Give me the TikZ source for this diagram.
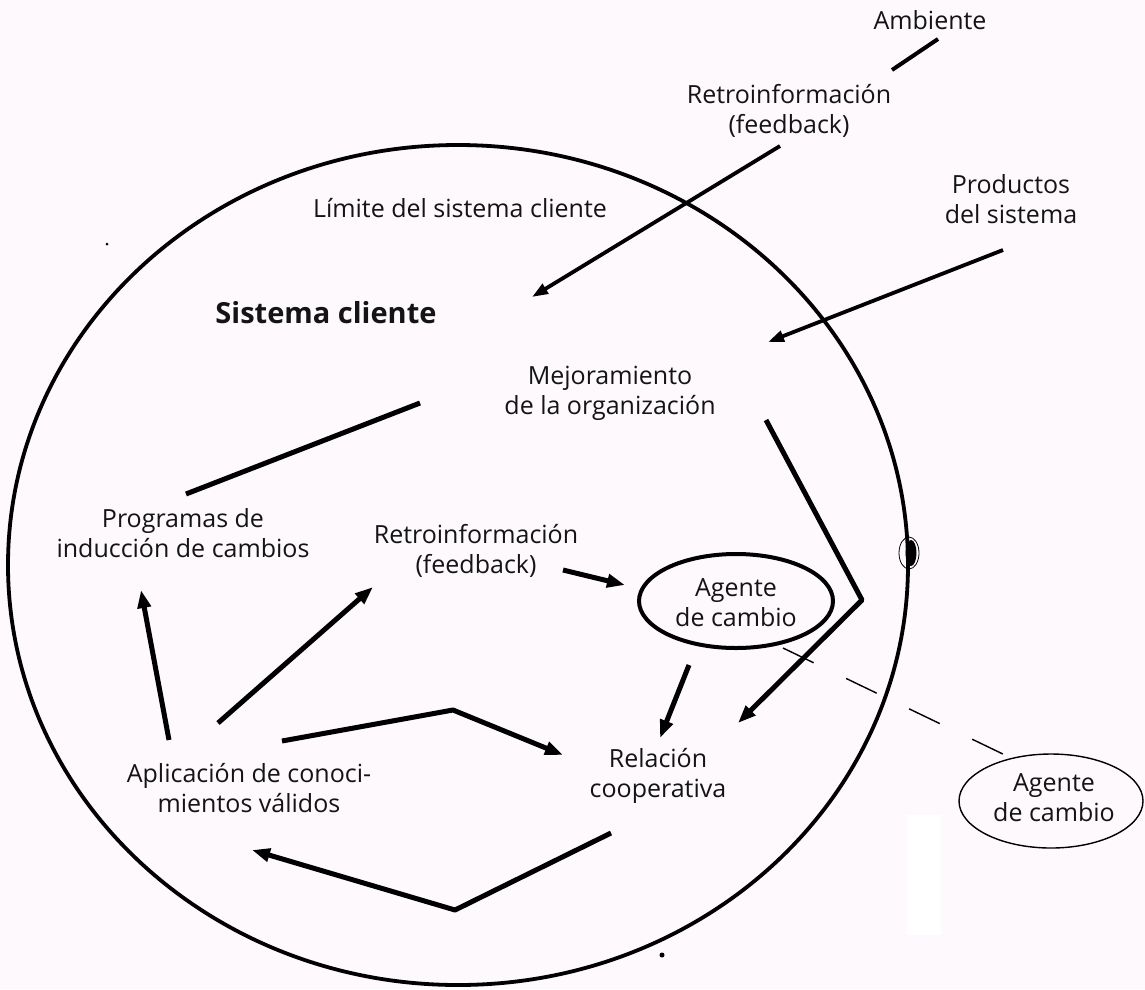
\documentclass[tikz,border=0pt]{standalone}
\usepackage{fontspec}
\setmainfont{Open Sans}
\usetikzlibrary{arrows.meta}
\definecolor{paper}{RGB}{253,249,253}
\definecolor{ink}{RGB}{20,20,20}
\begin{document}
\begin{tikzpicture}[x=1pt,y=-1pt,
  lbl/.style={font=\fontsize{25}{30}\selectfont, align=center, inner sep=0pt, text=ink},
  boldlbl/.style={font=\fontsize{29}{34}\selectfont\bfseries, inner sep=0pt, text=ink},
  conn/.style={line width=5pt, line join=round},
  arr/.style={conn, -{Triangle[length=18pt,width=13pt]}},
  thinarr/.style={line width=3.8pt, -{Triangle[length=16pt,width=11pt]}},
  boundary/.style={line width=3.8pt},
  dashlink/.style={line width=1.4pt, dash pattern=on 34pt off 36pt}
]
\fill[paper] (0,0) rectangle (1145,989);
\useasboundingbox (0,0) rectangle (1145,989);
\fill[white] (907,815) rectangle (941,935);

% client system boundary
\draw[boundary] (458,565) ellipse [x radius=450, y radius=420];
\draw[line width=0.8pt] (909,553) ellipse [x radius=10, y radius=16];
\fill (911,553) ellipse [x radius=5.5, y radius=13];
\fill (107,244) circle (1.5);
\fill (662,955) circle (2.5);

% labels
\node[lbl, anchor=base] (amb) at (930,29) {Ambiente};
\node[lbl] (fbout) at (789,111) {Retroinformación\\(feedback)};
\node[lbl] (prod) at (1011,199) {Productos\\del sistema};
\node[lbl, anchor=base] (lim) at (460,217) {Límite del sistema cliente};
\node[boldlbl, anchor=base] (sis) at (326,323) {Sistema cliente};
\node[lbl] (mej) at (610,393) {Mejoramiento\\de la organización};
\node[lbl] (prog) at (183,533) {Programas de\\inducción de cambios};
\node[lbl] (fbin) at (476,551) {Retroinformación\\(feedback)};
\node[lbl] (agtxt) at (736,603) {Agente\\de cambio};
\draw[line width=4pt] (736,601) ellipse [x radius=97, y radius=47];
\node[lbl] (rel) at (658,776) {Relación\\cooperativa};
\node[lbl] (apl) at (249,788) {Aplicación de conoci-\\mientos válidos};
\node[lbl] (agout) at (1054,798) {Agente\\de cambio};
\draw[line width=1.4pt] (1051,801) ellipse [x radius=92, y radius=47];

% connector end points
\coordinate (ambA) at (938,39);   \coordinate (ambB) at (892,70);
\coordinate (fbA) at (780,146);   \coordinate (fbB) at (532,297);
\coordinate (prA) at (1003,250);  \coordinate (prB) at (768,342);
\coordinate (mpA) at (420,403);   \coordinate (mpB) at (186,494);
\coordinate (mrA) at (766,420);   \coordinate (mrK) at (862,600);  \coordinate (mrB) at (738,723);
\coordinate (faA) at (563,570);   \coordinate (faB) at (625,585);
\coordinate (arA) at (689,665);   \coordinate (arB) at (660,738);
\coordinate (apA) at (169,740);   \coordinate (apB) at (141,590);
\coordinate (afA) at (218,723);   \coordinate (afB) at (373,587);
\coordinate (alA) at (282,741);   \coordinate (alK) at (453,710);  \coordinate (alB) at (563,755);
\coordinate (raA) at (611,833);   \coordinate (raK) at (455,910);  \coordinate (raB) at (252,850);
\coordinate (dA) at (783,648);    \coordinate (dB) at (1007,756);

% connectors
\draw[line width=4pt] (ambA) -- (ambB);
\draw[thinarr] (fbA) -- (fbB);
\draw[thinarr] (prA) -- (prB);
\draw[conn] (mpA) -- (mpB);
\draw[arr] (mrA) -- (mrK) -- (mrB);
\draw[arr] (faA) -- (faB);
\draw[arr] (arA) -- (arB);
\draw[arr] (apA) -- (apB);
\draw[arr] (afA) -- (afB);
\draw[arr] (alA) -- (alK) -- (alB);
\draw[arr] (raA) -- (raK) -- (raB);
\draw[dashlink] (dA) -- (dB);
\end{tikzpicture}
\end{document}
